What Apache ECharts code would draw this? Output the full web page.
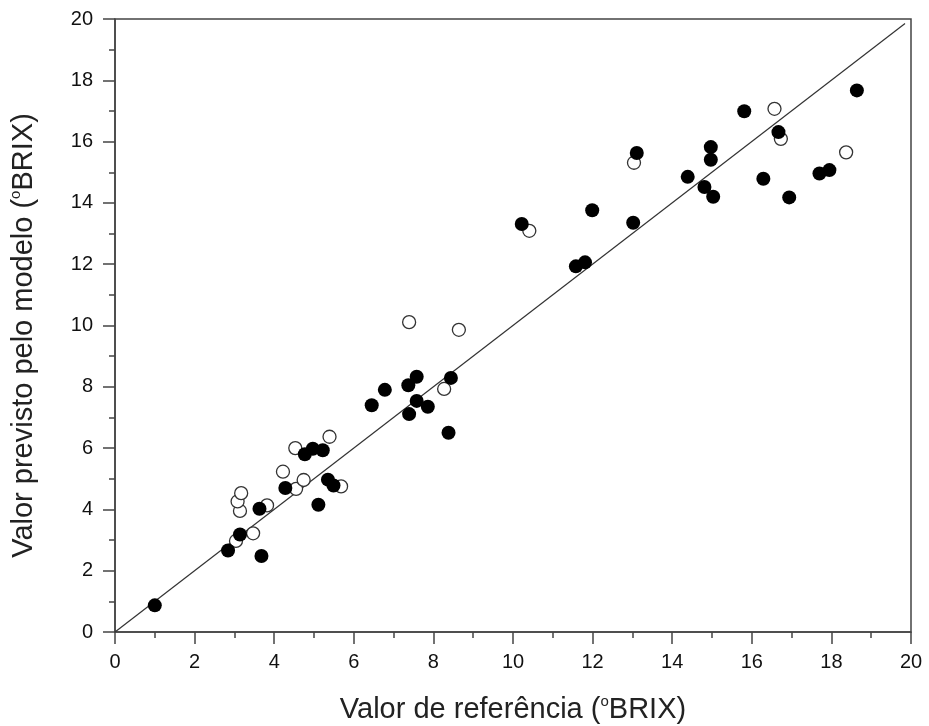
<!DOCTYPE html>
<html>
<head>
<meta charset="utf-8">
<script src="https://cdn.jsdelivr.net/npm/echarts@6/dist/echarts.min.js"></script>
<style>
  html, body { margin: 0; padding: 0; background: #fff; }
  #main { width: 929px; height: 726px; }
</style>
</head>
<body>
<div id="main"></div>
<script>
// pontos cheios (calibracao)
var filledPoints = [
    [1.00, 0.87], [2.84, 2.66], [3.14, 3.18], [3.68, 2.48], [3.63, 4.02],
    [4.28, 4.70], [5.11, 4.15], [4.77, 5.80], [4.97, 5.98], [5.22, 5.93],
    [5.35, 4.97], [5.49, 4.78], [6.45, 7.40], [6.78, 7.90], [7.37, 8.05],
    [7.58, 8.33], [7.39, 7.11], [7.58, 7.54], [7.86, 7.35], [8.38, 6.50],
    [8.44, 8.29], [10.22, 13.31], [11.58, 11.93], [11.81, 12.06], [11.99, 13.76],
    [13.02, 13.35], [13.11, 15.63], [14.39, 14.85], [14.81, 14.52], [14.97, 15.82],
    [14.97, 15.41], [15.03, 14.20], [15.81, 16.99], [16.67, 16.31], [16.29, 14.79],
    [16.94, 14.18], [17.70, 14.96], [17.95, 15.07], [18.64, 17.67]
];
// pontos vazios (validacao)
var openPoints = [
    [3.04, 2.97], [3.47, 3.22], [3.14, 3.95], [3.08, 4.26], [3.17, 4.53],
    [3.82, 4.13], [4.22, 5.23], [4.53, 6.00], [4.55, 4.67], [4.74, 4.96],
    [5.39, 6.37], [5.68, 4.75], [7.39, 10.11], [8.64, 9.86], [8.27, 7.93],
    [10.41, 13.09], [13.04, 15.31], [16.57, 17.07], [16.73, 16.09], [18.37, 15.65]
];
// linha 1:1
var idealLine = [[0, 0], [19.85, 19.85]];

var tickFont = {
    fontFamily: 'Liberation Sans, Arial',
    fontSize: 20,
    color: '#111'
};
var axisColor = '#444';

function makeAxis(name, gap, rot, labelMargin, namePad) {
    return {
        type: 'value',
        min: 0,
        max: 20,
        interval: 2,
        name: name,
        nameLocation: 'middle',
        nameGap: gap,
        nameRotate: rot,
        nameTextStyle: {
            fontFamily: 'Liberation Sans, Arial',
            fontSize: 29,
            color: '#222',
            padding: namePad,
            rich: {
                sup: { fontSize: 15, fontFamily: 'Liberation Sans, Arial', color: '#222', padding: [0, 0, 16, 0] }
            }
        },
        axisLine: { show: true, onZero: false, lineStyle: { color: axisColor, width: 1.5 } },
        axisTick: { show: true, inside: false, length: 12, lineStyle: { color: axisColor, width: 1.5 } },
        minorTick: { show: true, splitNumber: 2, length: 6, lineStyle: { color: axisColor, width: 1.5 } },
        axisLabel: Object.assign({ margin: labelMargin }, tickFont),
        splitLine: { show: false }
    };
}

var myChart = echarts.init(document.getElementById('main'));
myChart.setOption({
    animation: false,
    backgroundColor: '#fff',
    grid: {
        left: 115, right: 18, top: 19, bottom: 94,
        outerBoundsMode: 'none',
        show: true, borderColor: axisColor, borderWidth: 1.5, backgroundColor: 'transparent'
    },
    xAxis: makeAxis('Valor de referência ({sup|o}BRIX)', 62, 0, 20, [0, 0, 0, 0]),
    yAxis: makeAxis('Valor previsto pelo modelo ({sup|o}BRIX)', 76, 90, 22, [0, 20, 0, 0]),
    series: [
        {
            type: 'line',
            data: idealLine,
            symbol: 'none',
            lineStyle: { color: '#333', width: 1.2 },
            z: 1
        },
        {
            type: 'scatter',
            data: openPoints,
            symbol: 'circle',
            symbolSize: 13,
            itemStyle: { color: '#fff', borderColor: '#333', borderWidth: 1.3, opacity: 1 },
            z: 2
        },
        {
            type: 'scatter',
            data: filledPoints,
            symbol: 'circle',
            symbolSize: 14,
            itemStyle: { color: '#000', opacity: 1 },
            z: 3
        }
    ]
});
</script>
</body>
</html>
